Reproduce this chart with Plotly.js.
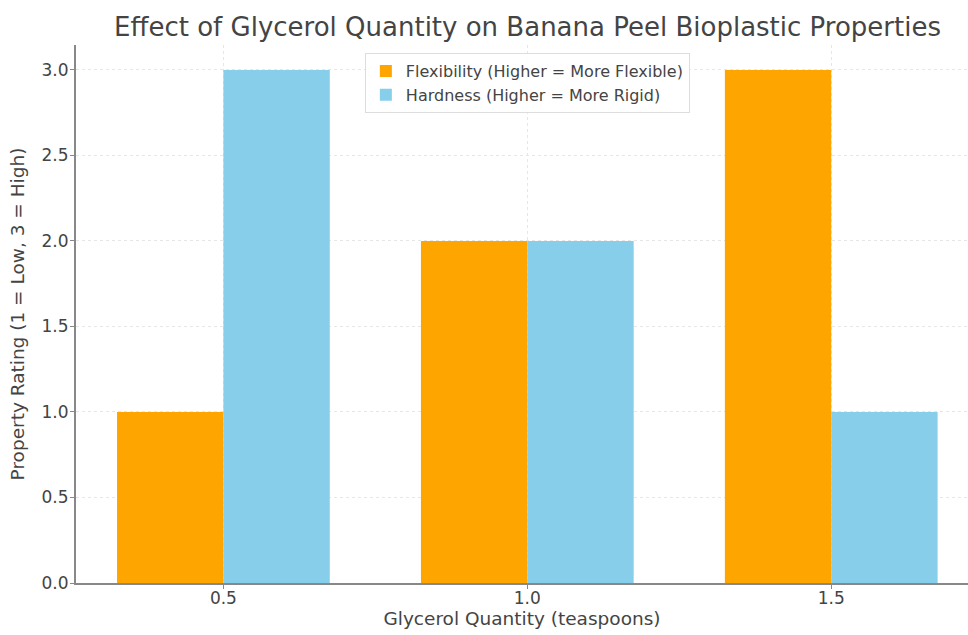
<!DOCTYPE html>
<html><head><meta charset="utf-8">
<script src="https://cdn.plot.ly/plotly-3.0.1.min.js"></script>
<style>html,body{margin:0;padding:0;background:#fff}#c{width:968px;height:635px}</style>
</head><body><div id="c"></div>
<script>
const positions = [0, 1, 2];
const tickLabels = ["0.5", "1.0", "1.5"];
const flexibility = [1, 2, 3];
const hardness = [3, 2, 1];
const seriesNames = ["Flexibility (Higher = More Flexible)", "Hardness (Higher = More Rigid)"];

const font = "DejaVu Sans, sans-serif";
const data = [
  {type: "bar", x: positions, y: flexibility, name: seriesNames[0], marker: {color: "#FFA500"}},
  {type: "bar", x: positions, y: hardness, name: seriesNames[1], marker: {color: "#87CEEB"}}
];
const layout = {
  width: 968, height: 635,
  margin: {l: 76, r: 0, t: 45, b: 52},
  paper_bgcolor: "#fff", plot_bgcolor: "#fff",
  barmode: "group", bargap: 0.3, bargroupgap: 0,
  font: {family: font, color: "#444", size: 17},
  title: {text: "Effect of Glycerol Quantity on Banana Peel Bioplastic Properties", font: {family: font, size: 26, color: "#444"}, x: 0.545, xanchor: "center", y: 0.957, yanchor: "middle"},
  xaxis: {
    range: [-0.485, 2.45], tickvals: positions, ticktext: tickLabels,
    showline: true, linecolor: "#888", linewidth: 2, ticks: "outside", ticklen: 4, tickcolor: "#888",
    ticklabelstandoff: -5,
    showgrid: true, gridcolor: "#e6e6e6", griddash: "dot", zeroline: false,
    title: {text: "Glycerol Quantity (teaspoons)", font: {family: font, size: 18.5, color: "#444"}, standoff: 2},
    tickfont: {family: font, size: 17, color: "#444"}
  },
  yaxis: {
    range: [0, 3.146], tickvals: [0, 0.5, 1, 1.5, 2, 2.5, 3], ticktext: ["0.0","0.5","1.0","1.5","2.0","2.5","3.0"],
    showline: true, linecolor: "#888", linewidth: 2, ticks: "outside", ticklen: 4, tickcolor: "#888",
    ticklabelstandoff: -2,
    showgrid: true, gridcolor: "#e6e6e6", griddash: "dot", zeroline: false,
    title: {text: "Property Rating (1 = Low, 3 = High)", font: {family: font, size: 18.5, color: "#444"}, standoff: 12},
    tickfont: {family: font, size: 17, color: "#444"}
  },
  legend: {x: 0.506, xanchor: "center", y: 0.985, yanchor: "top", bgcolor: "rgba(255,255,255,0.9)", bordercolor: "#ddd", borderwidth: 1, font: {family: font, size: 16, color: "#444"}, tracegroupgap: 0},
  showlegend: true
};
Plotly.newPlot("c", data, layout, {displayModeBar: false, staticPlot: true});
</script></body></html>
